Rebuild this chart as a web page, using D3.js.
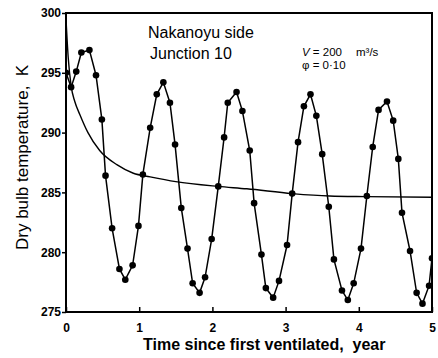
<!DOCTYPE html>
<html>
<head>
<meta charset="utf-8">
<script src="https://cdn.jsdelivr.net/npm/d3@7"></script>
<style>
  body { margin: 0; background: #fff; }
  svg { display: block; font-family: "Liberation Sans", Arial, sans-serif; }
  .axis path { display: none; }
  .axis line { stroke: #000; stroke-width: 1.5; }
  .axis text { font-size: 12px; font-weight: bold; fill: #000; }
</style>
</head>
<body>
<div id="chart"></div>
<script>
const obsTime = [0, 0.07, 0.14, 0.21, 0.32, 0.41, 0.49, 0.54, 0.63, 0.73, 0.81, 0.91, 0.99, 1.05,
  1.15, 1.24, 1.33, 1.42, 1.49, 1.575, 1.66, 1.73, 1.825, 1.90, 1.99, 2.08,
  2.16, 2.21, 2.33, 2.41, 2.51, 2.57, 2.67, 2.73, 2.83, 2.91, 3.02, 3.09,
  3.17, 3.25, 3.34, 3.42, 3.50, 3.59, 3.66, 3.77, 3.85, 3.93, 4.03, 4.11,
  4.19, 4.27, 4.385, 4.47, 4.54, 4.59, 4.70, 4.79, 4.87, 4.96, 5.0];
const obsTemp = [295.0, 293.8, 295.1, 296.7, 296.9, 294.8, 291.1, 286.4, 282.0, 278.6, 277.7, 278.9, 282.2, 286.5,
  290.4, 293.2, 294.2, 292.5, 289.0, 283.7, 280.3, 277.4, 276.6, 277.9, 281.1, 285.5,
  289.6, 292.5, 293.4, 291.8, 288.5, 284.1, 279.8, 277.0, 276.2, 277.6, 280.6, 284.9,
  289.2, 292.2, 293.2, 291.4, 288.2, 283.8, 279.4, 276.8, 276.0, 277.4, 280.3, 284.7,
  288.8, 291.9, 292.6, 291.0, 287.8, 283.3, 280.1, 276.6, 275.7, 277.2, 279.5];

// Smooth (mean) curve
const meanTime = [0, 0.03, 0.07, 0.12, 0.19, 0.3, 0.46, 0.7, 0.92, 1.15, 1.5, 2.08, 2.47, 3.09, 3.6, 4.1, 5.0];
const meanTemp = [299.5, 296.3, 293.9, 292.6, 291.5, 290.0, 288.5, 287.3, 286.6, 286.3, 285.9, 285.5, 285.3, 284.9, 284.7, 284.65, 284.6];

const xTicks = [0, 1, 2, 3, 4, 5];
const yTicks = [275, 280, 285, 290, 295, 300];

/*******************************/
/*    Declare the constants    */
/*******************************/
const width = 438;
const height = 358;
const margin = {top: 13, right: 6, bottom: 46, left: 66};
const innerWidth = width - margin.left - margin.right;
const innerHeight = height - margin.top - margin.bottom;

const svg = d3.select("#chart")
  .append("svg")
    .attr("width", width)
    .attr("height", height);

const innerChart = svg
  .append("g")
    .attr("transform", `translate(${margin.left}, ${margin.top})`);

/****************************/
/*    Declare the scales    */
/****************************/
const xScale = d3.scaleLinear()
  .domain([0, 5])
  .range([0, innerWidth]);

const yScale = d3.scaleLinear()
  .domain([275, 300])
  .range([innerHeight, 0]);

/**************************/
/*    Append the axes     */
/**************************/
const bottomAxis = d3.axisBottom(xScale)
  .tickValues(xTicks)
  .tickFormat(d3.format("d"))
  .tickSizeInner(-5)
  .tickSizeOuter(0)
  .tickPadding(11);
innerChart
  .append("g")
    .attr("class", "axis")
    .attr("transform", `translate(0, ${innerHeight})`)
    .call(bottomAxis);

const leftAxis = d3.axisLeft(yScale)
  .tickValues(yTicks)
  .tickSizeInner(4)
  .tickSizeOuter(0)
  .tickPadding(1);
innerChart
  .append("g")
    .attr("class", "axis")
    .call(leftAxis);

// Frame
innerChart
  .append("rect")
    .attr("width", innerWidth)
    .attr("height", innerHeight)
    .attr("fill", "none")
    .attr("stroke", "#000")
    .attr("stroke-width", 2);

/*****************************/
/*    Append the curves      */
/*****************************/
innerChart
  .append("clipPath")
    .attr("id", "plot-clip")
  .append("rect")
    .attr("width", innerWidth)
    .attr("height", innerHeight);

const plot = innerChart
  .append("g")
    .attr("clip-path", "url(#plot-clip)");

const meanLine = d3.line()
  .x(i => xScale(meanTime[i]))
  .y(i => yScale(meanTemp[i]))
  .curve(d3.curveMonotoneX);

plot
  .append("path")
    .attr("d", meanLine(d3.range(meanTime.length)))
    .attr("fill", "none")
    .attr("stroke", "#000")
    .attr("stroke-width", 1.4);

const obsLine = d3.line()
  .x(i => xScale(obsTime[i]))
  .y(i => yScale(obsTemp[i]));

plot
  .append("path")
    .attr("d", obsLine(d3.range(obsTime.length)))
    .attr("fill", "none")
    .attr("stroke", "#000")
    .attr("stroke-width", 1.5);

plot
  .selectAll(".obs")
  .data(d3.range(obsTime.length))
  .join("circle")
    .attr("class", "obs")
    .attr("cx", i => xScale(obsTime[i]))
    .attr("cy", i => yScale(obsTemp[i]))
    .attr("r", 3.3)
    .attr("fill", "#000");

/*****************************/
/*    Append the labels      */
/*****************************/
svg
  .append("text")
    .text("Nakanoyu side")
    .attr("x", 148)
    .attr("y", 37.5)
    .style("font-size", "16px");

svg
  .append("text")
    .text("Junction 10")
    .attr("x", 150)
    .attr("y", 58.5)
    .style("font-size", "16px");

const vText = svg
  .append("text")
    .attr("x", 302)
    .attr("y", 56)
    .style("font-size", "11.5px");
vText.append("tspan").text("V").style("font-style", "italic");
vText.append("tspan").text(" = 200");

svg
  .append("text")
    .text("m³/s")
    .attr("x", 356)
    .attr("y", 56)
    .style("font-size", "11.5px");

svg
  .append("text")
    .text("φ = 0·10")
    .attr("x", 302)
    .attr("y", 68.5)
    .style("font-size", "11.5px");

svg
  .append("text")
    .text("Time since first ventilated,  year")
    .attr("x", 143)
    .attr("y", 350)
    .style("white-space", "pre")
    .style("font-size", "16px")
    .style("font-weight", "bold");

svg
  .append("text")
    .text("Dry bulb temperature,  K")
    .attr("transform", "translate(28, 250) rotate(-90)")
    .style("white-space", "pre")
    .style("font-size", "17px");
</script>
</body>
</html>
